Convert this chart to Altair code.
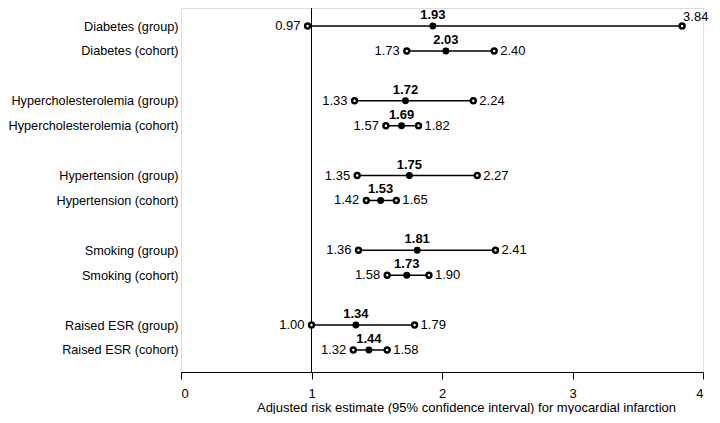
import altair as alt
import pandas as pd

labels = [
    "Diabetes (group)", "Diabetes (cohort)",
    "Hypercholesterolemia (group)", "Hypercholesterolemia (cohort)",
    "Hypertension (group)", "Hypertension (cohort)",
    "Smoking (group)", "Smoking (cohort)",
    "Raised ESR (group)", "Raised ESR (cohort)",
]
estimates = [1.93, 2.03, 1.72, 1.69, 1.75, 1.53, 1.81, 1.73, 1.34, 1.44]
lowers = [0.97, 1.73, 1.33, 1.57, 1.35, 1.42, 1.36, 1.58, 1.00, 1.32]
uppers = [3.84, 2.40, 2.24, 1.82, 2.27, 1.65, 2.41, 1.90, 1.79, 1.58]
x_ticks = [0, 1, 2, 3, 4]
reference_value = [1]

df = pd.DataFrame({"label": labels, "est": estimates, "lo": lowers, "hi": uppers})

# y order with blank spacer rows between risk factors
domain = []
for i in range(0, len(labels), 2):
    if i > 0:
        domain.append(" " * (i // 2))
    domain += labels[i:i + 2]

FONT = "Liberation Sans"
TITLE = "Adjusted risk estimate (95% confidence interval) for myocardial infarction"

xscale = alt.Scale(domain=[0, 4], nice=False, zero=True)
xaxis = alt.Axis(values=x_ticks, title=TITLE, grid=False, tickSize=7, tickColor="black",
                 domainColor="black", labelColor="black", labelFontSize=13, labelFont=FONT,
                 labelPadding=8, titleFont=FONT, titleFontSize=13, titleFontWeight="normal",
                 titleColor="black", titleX=285, titleY=39, titleAlign="center",
                 titleBaseline="alphabetic", format="d")
yscale = alt.Scale(type="point", domain=domain, padding=0.803, align=0.45)
yaxis = alt.Axis(title=None, ticks=False, domain=False, grid=False, labelFont=FONT,
                 labelFontSize=12.7, labelColor="black", labelPadding=3)


def X(field):
    return alt.X(f"{field}:Q", scale=xscale, axis=xaxis)


Y = alt.Y("label:N", scale=yscale, axis=yaxis, sort=domain)

base = alt.Chart(df)

ref = alt.Chart(pd.DataFrame({"ref": reference_value})).mark_rule(
    color="black", strokeWidth=1).encode(x=X("ref"))

ci = base.mark_rule(color="black", strokeWidth=1.5).encode(
    x=X("lo"), x2="hi:Q", y=Y)

ring = dict(shape="circle", filled=False, fill="white", fillOpacity=1,
            stroke="black", strokeWidth=2.5, size=24, opacity=1)
lo_pt = base.mark_point(**ring).encode(x=X("lo"), y=Y)
hi_pt = base.mark_point(**ring).encode(x=X("hi"), y=Y)
est_pt = base.mark_circle(color="black", size=48, opacity=1).encode(x=X("est"), y=Y)

est_txt = base.mark_text(font=FONT, fontSize=13, fontWeight="bold", color="black",
                         baseline="alphabetic", dy=-7).encode(
    x=X("est"), y=Y, text=alt.Text("est:Q", format=".2f"))
lo_txt = base.mark_text(font=FONT, fontSize=13, color="black", align="right",
                        baseline="middle", dx=-7).encode(
    x=X("lo"), y=Y, text=alt.Text("lo:Q", format=".2f"))
hi_txt = base.transform_filter("datum.hi < 3.5").mark_text(
    font=FONT, fontSize=13, color="black", align="left", baseline="middle", dx=6).encode(
    x=X("hi"), y=Y, text=alt.Text("hi:Q", format=".2f"))
hi_txt_edge = base.transform_filter("datum.hi >= 3.5").mark_text(
    font=FONT, fontSize=13, color="black", align="left", baseline="middle", dx=1, dy=-9).encode(
    x=X("hi"), y=Y, text=alt.Text("hi:Q", format=".2f"))

chart = alt.layer(ref, ci, lo_pt, hi_pt, est_pt, est_txt, lo_txt, hi_txt, hi_txt_edge).properties(
    width=522, height=364,
    autosize=alt.AutoSizeParams(type="none"),
    padding={"left": 173, "top": 0, "right": 9, "bottom": 42},
).configure_view(stroke="black", strokeWidth=1).configure(background="white")

chart.save("out.html", embed_options={"renderer": "svg", "actions": False})
